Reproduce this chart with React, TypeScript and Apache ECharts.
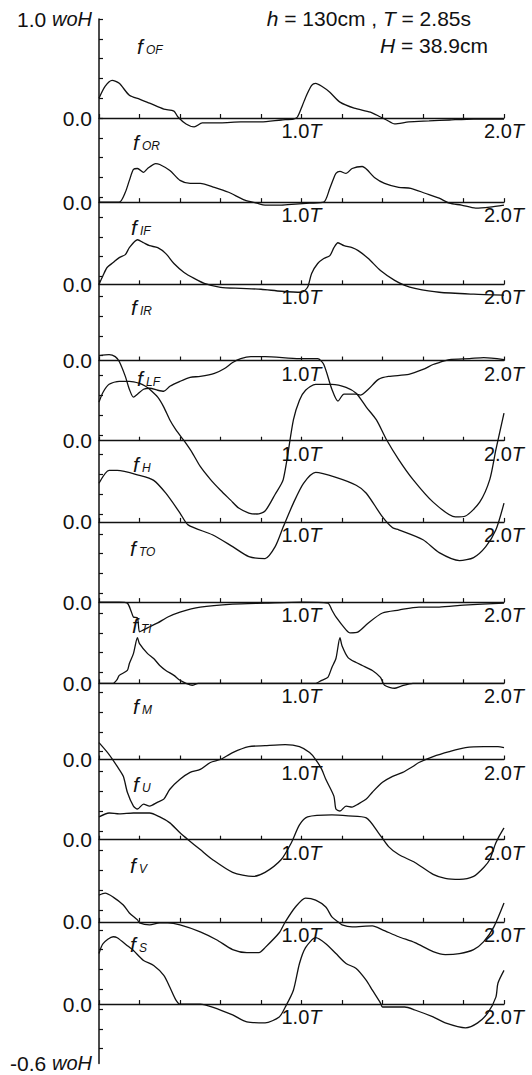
import React, { useEffect, useRef } from 'react';
import * as echarts from 'echarts';

// ---- data (time in units of T, force in units of w0H) ----
const curveKeys = ['OF', 'OR', 'IF', 'IR', 'LF', 'H', 'TO', 'TI', 'M', 'U', 'V', 'S'];
// zero level of each trace on the common left scale
const baselines = [0, -0.85, -1.68, -2.45, -3.26, -4.08, -4.89, -5.71, -6.48, -7.29, -8.12, -8.95];
const xLabelValues = [1, 2];
const topValue = 1.0;
const bottomOffset = -0.6;

const fOF = [[0,0.20],[0.03,0.32],[0.065,0.38],[0.10,0.35],[0.15,0.23],[0.20,0.19],[0.25,0.15],[0.32,0.09],[0.37,0.07],[0.39,0.01],[0.43,-0.06],[0.47,-0.09],[0.51,-0.05],[0.6,-0.05],[0.7,-0.04],[0.8,-0.04],[0.9,-0.02],[0.96,-0.01],[0.98,0.01],[1.005,0.13],[1.025,0.23],[1.05,0.33],[1.07,0.35],[1.10,0.32],[1.14,0.26],[1.19,0.16],[1.26,0.10],[1.34,0.06],[1.39,0.01],[1.42,-0.02],[1.46,-0.06],[1.53,-0.04],[1.63,-0.03],[1.73,-0.02],[1.85,-0.01],[2.0,-0.01]];
const fOR = [[0,0],[0.1,0],[0.13,0.10],[0.15,0.22],[0.17,0.33],[0.19,0.34],[0.22,0.30],[0.24,0.34],[0.28,0.39],[0.30,0.38],[0.35,0.32],[0.40,0.22],[0.45,0.19],[0.50,0.19],[0.57,0.15],[0.64,0.10],[0.72,0.02],[0.78,-0.01],[0.82,-0.03],[0.9,-0.03],[0.97,-0.02],[1.04,-0.01],[1.11,0.0],[1.14,0.14],[1.155,0.22],[1.17,0.29],[1.19,0.31],[1.22,0.29],[1.25,0.34],[1.30,0.36],[1.36,0.25],[1.41,0.19],[1.48,0.15],[1.54,0.14],[1.61,0.09],[1.68,0.04],[1.73,-0.01],[1.79,-0.03],[1.86,-0.06],[1.93,-0.05],[2.0,-0.03]];
const fIF = [[0,0],[0.02,0.09],[0.04,0.17],[0.07,0.22],[0.10,0.27],[0.13,0.30],[0.15,0.37],[0.19,0.45],[0.22,0.42],[0.25,0.39],[0.29,0.37],[0.33,0.31],[0.37,0.21],[0.42,0.12],[0.47,0.06],[0.52,0.01],[0.60,-0.03],[0.70,-0.04],[0.80,-0.05],[0.90,-0.07],[1.0,-0.08],[1.03,-0.03],[1.05,0.11],[1.08,0.21],[1.11,0.26],[1.14,0.29],[1.16,0.37],[1.18,0.42],[1.21,0.39],[1.25,0.37],[1.28,0.34],[1.33,0.26],[1.39,0.14],[1.46,0.04],[1.51,-0.01],[1.56,-0.04],[1.68,-0.08],[1.85,-0.10],[2.0,-0.11]];
const fIR = [[0,0.05],[0.05,0.06],[0.08,0.04],[0.10,-0.01],[0.13,-0.16],[0.15,-0.29],[0.17,-0.37],[0.19,-0.34],[0.22,-0.29],[0.25,-0.28],[0.29,-0.30],[0.32,-0.31],[0.35,-0.26],[0.40,-0.21],[0.45,-0.17],[0.50,-0.16],[0.57,-0.13],[0.62,-0.08],[0.66,-0.02],[0.70,0.02],[0.75,0.04],[0.82,0.04],[0.99,0.02],[1.04,0.02],[1.08,0.02],[1.11,-0.04],[1.15,-0.29],[1.18,-0.41],[1.21,-0.34],[1.27,-0.34],[1.29,-0.35],[1.33,-0.29],[1.38,-0.19],[1.43,-0.16],[1.53,-0.14],[1.60,-0.09],[1.65,-0.04],[1.68,-0.02],[1.73,0.01],[1.83,0.02],[1.90,0.03],[2.0,0.01]];
const fLF = [[0,0.39],[0.02,0.49],[0.05,0.57],[0.10,0.60],[0.15,0.60],[0.20,0.58],[0.23,0.55],[0.25,0.52],[0.29,0.44],[0.32,0.34],[0.35,0.21],[0.38,0.11],[0.42,0.0],[0.46,-0.12],[0.50,-0.26],[0.55,-0.39],[0.60,-0.50],[0.65,-0.60],[0.69,-0.68],[0.74,-0.73],[0.78,-0.74],[0.82,-0.71],[0.87,-0.54],[0.91,-0.39],[0.96,0.21],[0.99,0.41],[1.02,0.51],[1.07,0.57],[1.15,0.57],[1.22,0.54],[1.27,0.48],[1.32,0.34],[1.37,0.21],[1.42,0.01],[1.48,-0.19],[1.55,-0.39],[1.65,-0.62],[1.76,-0.77],[1.81,-0.76],[1.88,-0.62],[1.93,-0.39],[1.96,-0.09],[2.0,0.28]];
const fH = [[0,0.39],[0.05,0.52],[0.09,0.52],[0.20,0.47],[0.27,0.42],[0.33,0.29],[0.40,0.09],[0.44,-0.03],[0.56,-0.13],[0.66,-0.25],[0.74,-0.35],[0.82,-0.37],[0.87,-0.25],[0.91,-0.05],[0.96,0.19],[1.01,0.39],[1.07,0.50],[1.17,0.45],[1.27,0.37],[1.32,0.29],[1.40,0.05],[1.45,-0.06],[1.48,-0.08],[1.60,-0.18],[1.68,-0.31],[1.78,-0.39],[1.85,-0.36],[1.91,-0.25],[1.96,-0.08],[2.0,0.19]];
const fTO = [[0,0],[0.10,0],[0.14,-0.01],[0.16,-0.10],[0.17,-0.15],[0.19,-0.16],[0.20,-0.30],[0.22,-0.28],[0.24,-0.26],[0.29,-0.21],[0.34,-0.15],[0.40,-0.10],[0.50,-0.05],[0.66,-0.02],[0.82,-0.01],[1.0,0],[1.13,-0.01],[1.15,-0.08],[1.17,-0.15],[1.22,-0.28],[1.24,-0.31],[1.28,-0.30],[1.33,-0.21],[1.40,-0.11],[1.48,-0.08],[1.58,-0.05],[1.68,-0.05],[1.8,-0.03],[2.0,-0.01]];
const fTI = [[0,0],[0.07,0],[0.09,0.04],[0.10,0.08],[0.14,0.13],[0.15,0.20],[0.17,0.30],[0.19,0.46],[0.20,0.40],[0.24,0.30],[0.27,0.25],[0.30,0.18],[0.33,0.13],[0.37,0.08],[0.40,0.03],[0.43,0],[0.46,-0.02],[0.49,0],[1.07,0],[1.10,0.03],[1.13,0.06],[1.15,0.16],[1.17,0.25],[1.19,0.46],[1.20,0.38],[1.23,0.26],[1.27,0.21],[1.30,0.18],[1.35,0.13],[1.39,0.06],[1.41,-0.02],[1.46,-0.05],[1.49,-0.03],[1.55,0],[2.0,0]];
const fM = [[0,0.17],[0.05,0.05],[0.09,-0.07],[0.12,-0.17],[0.14,-0.33],[0.17,-0.47],[0.19,-0.50],[0.22,-0.45],[0.25,-0.47],[0.29,-0.43],[0.32,-0.40],[0.35,-0.30],[0.40,-0.20],[0.45,-0.13],[0.50,-0.10],[0.55,-0.03],[0.60,0.0],[0.66,0.07],[0.74,0.13],[0.82,0.14],[0.92,0.15],[0.99,0.13],[1.04,0.07],[1.07,0.0],[1.10,-0.10],[1.12,-0.20],[1.16,-0.37],[1.17,-0.50],[1.19,-0.52],[1.22,-0.47],[1.25,-0.48],[1.28,-0.45],[1.32,-0.40],[1.35,-0.33],[1.40,-0.23],[1.45,-0.17],[1.50,-0.13],[1.55,-0.07],[1.58,-0.03],[1.65,0.03],[1.73,0.08],[1.81,0.12],[1.90,0.13],[1.97,0.13],[2.0,0.12]];
const fU = [[0,0.23],[0.05,0.27],[0.10,0.26],[0.17,0.27],[0.25,0.27],[0.30,0.23],[0.35,0.17],[0.40,0.07],[0.44,0.0],[0.50,-0.10],[0.56,-0.20],[0.66,-0.33],[0.76,-0.37],[0.82,-0.33],[0.90,-0.20],[0.95,-0.03],[0.99,0.15],[1.03,0.23],[1.15,0.25],[1.23,0.24],[1.32,0.22],[1.38,0.07],[1.43,-0.07],[1.48,-0.15],[1.56,-0.23],[1.65,-0.35],[1.71,-0.39],[1.78,-0.40],[1.85,-0.37],[1.90,-0.28],[1.93,-0.20],[1.96,-0.03],[2.0,0.12]];
const fV = [[0,0.27],[0.03,0.29],[0.07,0.25],[0.12,0.17],[0.15,0.09],[0.19,0.02],[0.20,-0.01],[0.25,-0.03],[0.30,-0.01],[0.34,-0.01],[0.40,-0.03],[0.50,-0.10],[0.58,-0.18],[0.66,-0.28],[0.73,-0.31],[0.79,-0.31],[0.82,-0.26],[0.89,-0.11],[0.92,0.0],[0.97,0.15],[1.02,0.24],[1.07,0.22],[1.12,0.15],[1.15,0.05],[1.18,0.0],[1.20,-0.03],[1.25,-0.05],[1.35,-0.04],[1.40,-0.08],[1.48,-0.15],[1.56,-0.21],[1.65,-0.30],[1.71,-0.33],[1.78,-0.32],[1.85,-0.28],[1.90,-0.20],[1.95,-0.05],[2.0,0.19]];
const fS = [[0,0.51],[0.02,0.61],[0.07,0.68],[0.09,0.67],[0.14,0.59],[0.17,0.54],[0.22,0.44],[0.27,0.39],[0.32,0.29],[0.35,0.17],[0.38,0.04],[0.40,0.0],[0.50,0.0],[0.56,-0.03],[0.66,-0.11],[0.73,-0.18],[0.82,-0.19],[0.89,-0.13],[0.92,-0.03],[0.96,0.14],[0.99,0.41],[1.02,0.57],[1.07,0.67],[1.12,0.61],[1.17,0.51],[1.22,0.41],[1.27,0.36],[1.32,0.24],[1.35,0.14],[1.39,0.01],[1.40,-0.03],[1.51,-0.03],[1.56,-0.06],[1.65,-0.13],[1.71,-0.19],[1.81,-0.24],[1.87,-0.19],[1.92,-0.09],[1.96,0.07],[1.97,0.21],[2.0,0.34]];

const curves = [fOF, fOR, fIF, fIR, fLF, fH, fTO, fTI, fM, fU, fV, fS];

// ---- layout / style ----
const labelPos = [
  [137, 46], [133, 142], [131, 227], [131, 307], [137, 378], [133, 464],
  [130, 548], [132, 625], [133, 706], [133, 784], [130, 865], [130, 944],
];
const INK = '#111';
const FONT = '"Liberation Sans", Arial, sans-serif';

export default function App() {
  const ref = useRef<HTMLDivElement>(null);
  useEffect(() => {
    if (!ref.current) return;
    const chart = echarts.init(ref.current, null, { renderer: 'svg' });
    const bottomValue = baselines[baselines.length - 1] + bottomOffset;
    const pxPerUnit = 99;
    const gridTop = 19;
    const gridHeight = (topValue - bottomValue) * pxPerUnit;

    const tickVals: number[] = [];
    for (let k = 0; ; k++) {
      const v = Math.round((topValue - 0.2 * k) * 100) / 100;
      if (v < bottomValue - 1e-6) break;
      tickVals.push(v);
    }
    const labelVals = [topValue, ...baselines, bottomValue];

    const yAxes = baselines.map((b, i) => ({
      type: 'value',
      gridIndex: 0,
      min: bottomValue - b,
      max: topValue - b,
      show: i === 0,
      position: 'left',
      axisLine: { show: true, onZero: false, lineStyle: { color: INK, width: 1.5 } },
      axisTick: { show: true, inside: true, length: 4, customValues: tickVals, lineStyle: { color: INK, width: 1.2 } },
      splitLine: { show: false },
      axisLabel: {
        show: i === 0,
        customValues: labelVals,
        margin: 7,
        color: INK,
        fontFamily: FONT,
        fontSize: 21,
        formatter: (v: number) => {
          if (Math.abs(v - topValue) < 1e-6) return '1.0 {i|woH}';
          if (Math.abs(v - bottomValue) < 1e-6) return '-0.6 {i|woH}';
          return '0.0';
        },
        rich: { i: { fontStyle: 'italic', fontFamily: FONT, fontSize: 20, color: INK } },
      },
    }));

    // each x axis sits on the zero level of its own trace (offset measured up from the grid bottom)
    const xAxes = baselines.map((b) => ({
      type: 'value',
      gridIndex: 0,
      min: 0,
      max: 2,
      interval: 0.2,
      position: 'bottom',
      offset: -(b - bottomValue) * pxPerUnit,
      axisLine: { show: true, onZero: false, lineStyle: { color: INK, width: 1.3 } },
      axisTick: { show: true, inside: true, length: 4, lineStyle: { color: INK, width: 1.2 } },
      splitLine: { show: false },
      axisLabel: {
        customValues: xLabelValues,
        margin: 3,
        color: INK,
        fontFamily: FONT,
        fontSize: 20,
        formatter: (v: number) => `${v.toFixed(1)}{i|T}`,
        rich: { i: { fontStyle: 'italic', fontFamily: FONT, fontSize: 20, color: INK } },
      },
    }));

    const series = curves.map((d, i) => ({
      type: 'line',
      name: 'f' + curveKeys[i],
      xAxisIndex: i,
      yAxisIndex: i,
      data: d,
      symbol: 'none',
      showSymbol: false,
      smooth: 0.25,
      clip: false,
      silent: true,
      lineStyle: { color: INK, width: 1.3 },
    }));

    const graphics: any[] = [];
    curveKeys.forEach((k, i) => {
      const [x, y] = labelPos[i];
      graphics.push({
        type: 'text', x, y,
        style: { text: 'f', font: `italic 21px ${FONT}`, fill: INK, textAlign: 'left', textVerticalAlign: 'middle' },
      });
      graphics.push({
        type: 'text', x: x + 9, y: y + 4,
        style: { text: k, font: `italic 12px ${FONT}`, fill: INK, textAlign: 'left', textVerticalAlign: 'middle' },
      });
    });
    graphics.push({
      type: 'text', x: 471, y: 18,
      style: {
        text: '{i|h} = 130cm , {i|T} = 2.85s',
        textAlign: 'right', textVerticalAlign: 'middle',
        font: `21px ${FONT}`, fill: INK,
        rich: { i: { fontStyle: 'italic', fontFamily: FONT, fontSize: 21, fill: INK } },
      },
    });
    graphics.push({
      type: 'text', x: 488, y: 45,
      style: {
        text: '{i|H} = 38.9cm',
        textAlign: 'right', textVerticalAlign: 'middle',
        font: `21px ${FONT}`, fill: INK,
        rich: { i: { fontStyle: 'italic', fontFamily: FONT, fontSize: 21, fill: INK } },
      },
    });

    chart.setOption({
      animation: false,
      backgroundColor: '#fff',
      grid: [{ left: 99, top: gridTop, width: 405, height: gridHeight, containLabel: false, outerBoundsMode: 'none' }],
      xAxis: xAxes,
      yAxis: yAxes,
      series,
      graphic: graphics,
    });
    return () => chart.dispose();
  }, []);
  return (
    <div
      ref={ref}
      style={{ position: 'fixed', left: 0, top: 0, width: 532, height: 1075, background: '#fff' }}
    />
  );
}
